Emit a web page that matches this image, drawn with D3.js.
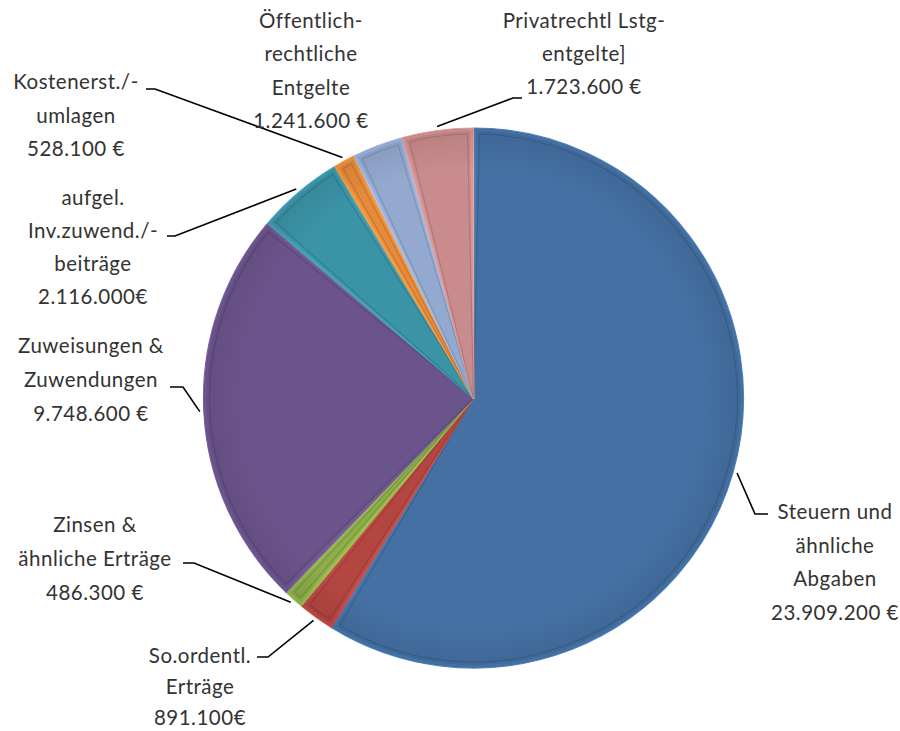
<!DOCTYPE html>
<html><head><meta charset="utf-8">
<script src="https://cdn.jsdelivr.net/npm/d3@7"></script>
<style>body{margin:0;background:#fff}svg{display:block}</style>
</head><body>
<svg id="c" width="900" height="731"></svg>
<script>
const categories = ["Steuern und ähnliche Abgaben","So.ordentl. Erträge","Zinsen & ähnliche Erträge","Zuweisungen & Zuwendungen","aufgel. Inv.zuwend./-beiträge","Kostenerst./-umlagen","Öffentlich-rechtliche Entgelte","Privatrechtl Lstg-entgelte]"];
const values = [23909200, 891100, 486300, 9748600, 2116000, 528100, 1241600, 1723600];
const colors = ["#4470a3","#b44642","#8cad4a","#6b548b","#3b93a6","#e58b3a","#93a9cf","#c98b8b"];
const labelLines = [
  ["Steuern und","ähnliche","Abgaben","23.909.200 €"],
  ["So.ordentl.","Erträge","891.100€"],
  ["Zinsen &","ähnliche Erträge","486.300  €"],
  ["Zuweisungen &","Zuwendungen","9.748.600 €"],
  ["aufgel.","Inv.zuwend./-","beiträge","2.116.000€"],
  ["Kostenerst./-","umlagen","528.100 €"],
  ["Öffentlich-","rechtliche","Entgelte","1.241.600 €"],
  ["Privatrechtl Lstg-","entgelte]","1.723.600 €"]
];
// label layout: centre x, first line y, line height, leader start [x,y], elbow x (null = no leader)
const labelPos = [
  {x:835,y:512,lh:33.5,lx:768,ly:514,ex:755},
  {x:200,y:656,lh:31,lx:257,ly:657,ex:268},
  {x:95,y:525,lh:34,lx:183,ly:563,ex:194},
  {x:91,y:346,lh:34,lx:170,ly:387,ex:183},
  {x:93,y:198,lh:33,lx:167,ly:236,ex:175},
  {x:76,y:82,lh:33.5,lx:146,ly:89,ex:155},
  {x:311,y:21,lh:33.3,lx:null},
  {x:584,y:21,lh:33,lx:522,ly:98,ex:513}
];

const svg = d3.select("#c");
const cx = 473.5, cy = 398, R = 270;
const pie = d3.pie().sort(null).value(d=>d)(values);
const arc = d3.arc().innerRadius(0).outerRadius(R);
const inset = 6;
const arcIn = d3.arc().innerRadius(0).outerRadius(R-inset).padRadius(R-inset).padAngle(2*inset/(R-inset));
const arcIn2 = d3.arc().innerRadius(0).outerRadius(R-2).padRadius(R-2).padAngle(4/(R-2));

const g = svg.append("g").attr("transform",`translate(${cx},${cy})`);
const defs = svg.append("defs");
const sh = defs.append("radialGradient").attr("id","shade").attr("cx","50%").attr("cy","50%").attr("r","50%");
sh.append("stop").attr("offset","0.85").attr("stop-color","#000").attr("stop-opacity",0);
sh.append("stop").attr("offset","1").attr("stop-color","#000").attr("stop-opacity",0.08);

pie.forEach((p,i)=>{
  const c = d3.color(colors[i]);
  g.append("path").attr("d",arc(p)).attr("fill",colors[i])
    .attr("stroke",c.brighter(0.5)).attr("stroke-width",1.2).attr("stroke-linejoin","round");
  g.append("path").attr("d",arcIn2(p)).attr("fill","none")
    .attr("stroke",c.brighter(0.25)).attr("stroke-width",2).attr("stroke-linejoin","round");
  g.append("path").attr("d",arcIn(p)).attr("fill",colors[i])
    .attr("stroke",c.darker(0.4)).attr("stroke-width",1.1).attr("stroke-linejoin","round");
});
g.append("circle").attr("r",R).attr("fill","url(#shade)");

pie.forEach((p,i)=>{
  const L = labelPos[i];
  if(L.lx!==null){
    const a = (p.startAngle+p.endAngle)/2;
    const px = cx + Math.sin(a)*(R+4), py = cy - Math.cos(a)*(R+4);
    svg.append("polyline").attr("points",`${L.lx},${L.ly} ${L.ex},${L.ly} ${px},${py}`)
      .attr("fill","none").attr("stroke","#000").attr("stroke-width",1.6);
  }
  const t = svg.append("text").attr("text-anchor","middle")
    .attr("font-family","Lato, 'Open Sans', sans-serif").attr("font-weight",400)
    .attr("font-size",20.5).attr("letter-spacing","0.5px").attr("fill","#333");
  labelLines[i].forEach((s,j)=>{
    t.append("tspan").attr("x",L.x).attr("y",L.y+j*L.lh).attr("dy","0.35em").text(s);
  });
});
</script>
</body></html>
